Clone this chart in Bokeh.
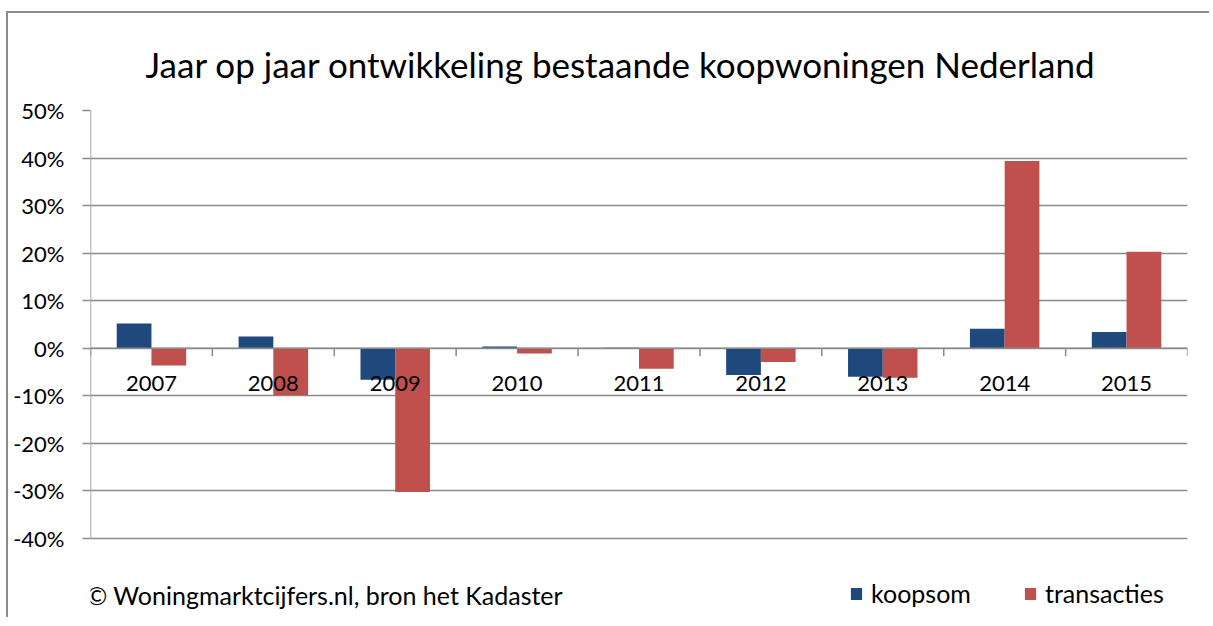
from bokeh.plotting import figure
from bokeh.models import (ColumnDataSource, FactorRange, FixedTicker, NumeralTickFormatter,
                          Span, Label, Legend, LegendItem)
from bokeh.transform import dodge
from bokeh.core.properties import value
from bokeh.embed import file_html
from bokeh.resources import INLINE

years = ["2007", "2008", "2009", "2010", "2011", "2012", "2013", "2014", "2015"]
koopsom = [0.052, 0.025, -0.066, 0.004, 0.001, -0.056, -0.060, 0.041, 0.034]
transacties = [-0.036, -0.099, -0.302, -0.011, -0.043, -0.029, -0.062, 0.394, 0.203]
y_ticks = [-0.4, -0.3, -0.2, -0.1, 0.0, 0.1, 0.2, 0.3, 0.4, 0.5]

title_text = "Jaar op jaar ontwikkeling bestaande koopwoningen Nederland"
source_text = "\u00a9 Woningmarktcijfers.nl, bron het Kadaster"

FONT = "Lato"
GRAY = "#8a8a8a"
BLUE = "#1F497D"
RED = "#C0504D"

src = ColumnDataSource(dict(year=years, koopsom=koopsom, transacties=transacties))

# layout (pixels)
W, H = 1203, 606
ML, MR, MT = 82, 24, 97
plot_px = 428          # height of the -40%..50% value area
extra_px = H - MT - plot_px   # room below -40% for source note and legend
px2val = (y_ticks[-1] - y_ticks[0]) / plot_px
y_start = y_ticks[0] - extra_px * px2val

p = figure(x_range=FactorRange(factors=years, range_padding=0), y_range=(y_start, y_ticks[-1]),
           width=W, height=H, min_border_left=ML, min_border_right=MR,
           min_border_top=MT, min_border_bottom=0,
           output_backend="svg", toolbar_location=None,
           background_fill_color="white", border_fill_color="white")
p.outline_line_color = None
p.styles = {"border-top": "2px solid #8c8c8c", "border-left": "2px solid #8c8c8c",
            "margin-left": "6px", "margin-top": "11px"}

# title
p.title.text = title_text
p.title.text_font = FONT
p.title.text_font_size = "35px"
p.title.text_font_style = "normal"
p.title.text_color = "black"
p.title.align = "left"
p.title.offset = 55
p.title.standoff = 52

# bars
bw = 0.285
r1 = p.vbar(x=dodge("year", -bw / 2, range=p.x_range), top="koopsom", bottom=0, width=bw,
            source=src, fill_color=BLUE, line_color=None)
r2 = p.vbar(x=dodge("year", bw / 2, range=p.x_range), top="transacties", bottom=0, width=bw,
            source=src, fill_color=RED, line_color=None)

# value axis
p.xaxis.visible = False
p.xgrid.visible = False
yax = p.yaxis[0]
yax.ticker = FixedTicker(ticks=y_ticks)
yax.formatter = NumeralTickFormatter(format="0%")
yax.major_label_text_font = FONT
yax.major_label_text_font_size = "22px"
yax.major_label_text_color = "black"
yax.axis_line_color = None
yax.major_tick_line_color = GRAY
yax.major_tick_line_width = 1.5
yax.major_tick_out = 8
yax.major_tick_in = 0
yax.minor_tick_line_color = None
yax.major_label_standoff = 18
p.ygrid.ticker = FixedTicker(ticks=y_ticks)
p.ygrid.grid_line_color = GRAY
p.ygrid.grid_line_width = 1.5
p.segment(x0=[0], x1=[0], y0=[y_ticks[0]], y1=[y_ticks[-1]], line_color=GRAY, line_width=1.5)

# category axis crossing at zero
p.add_layout(Span(location=0, dimension="width", line_color=GRAY, line_width=1.5))
tick_len = 8 * px2val
bounds = list(range(len(years) + 1))
p.segment(x0=bounds, x1=bounds, y0=[0] * len(bounds), y1=[-tick_len] * len(bounds),
          line_color=GRAY, line_width=1.5)
p.text(x="year", y=0, text="year", source=src, y_offset=35,
       text_align="center", text_baseline="middle",
       text_font=value(FONT), text_font_size="22px", text_color="black")

# source note
p.add_layout(Label(x=-4, y=25, x_units="screen", y_units="screen", text=source_text,
                   text_font=FONT, text_font_size="25px", text_color="black",
                   text_baseline="middle"))

# legend
legend = Legend(items=[LegendItem(label="koopsom", renderers=[r1]),
                       LegendItem(label="transacties", renderers=[r2])],
                location=(759, 11), orientation="horizontal",
                glyph_width=14, glyph_height=15, label_standoff=8, spacing=52,
                padding=0, margin=0, border_line_color=None, background_fill_alpha=0,
                label_text_font=FONT, label_text_font_size="25px", label_text_color="black")
p.add_layout(legend)

open("out.html", "w").write(file_html(p, INLINE))
